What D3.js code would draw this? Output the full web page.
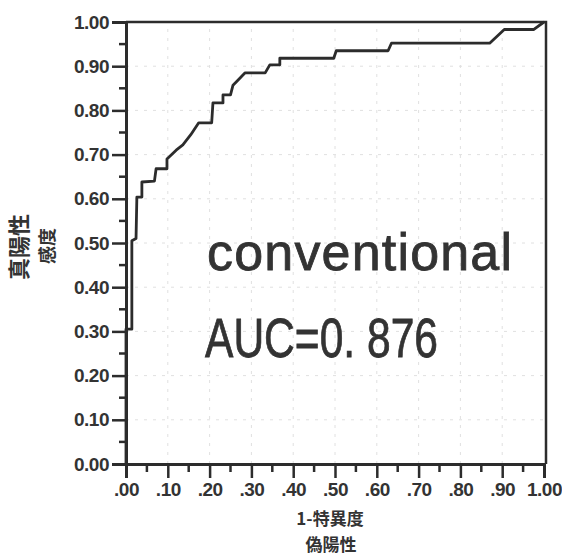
<!DOCTYPE html>
<html lang="ja">
<head>
    <meta charset="UTF-8">
    <script src="https://d3js.org/d3.v7.min.js"></script>
    <style>
        body { margin: 0; background: #fff; font-family: "Liberation Sans", Arial, sans-serif; }
        svg { display: block; }
    </style>
</head>
<body>
    <div id="chart"></div>
    <script>
        // ROC curve points (1-specificity, sensitivity)
        const fpr = [0, 0, 0.014, 0.014, 0.024, 0.026, 0.038, 0.038, 0.068, 0.072, 0.098, 0.098,
                     0.12, 0.136, 0.155, 0.174, 0.205, 0.208, 0.232, 0.232, 0.25, 0.256, 0.285,
                     0.333, 0.344, 0.368, 0.368, 0.497, 0.503, 0.627, 0.635, 0.87, 0.905, 0.975, 1];
        const tpr = [0, 0.305, 0.305, 0.505, 0.51, 0.604, 0.604, 0.638, 0.64, 0.668, 0.668, 0.69,
                     0.71, 0.722, 0.745, 0.772, 0.772, 0.817, 0.817, 0.835, 0.835, 0.857, 0.885,
                     0.885, 0.903, 0.903, 0.918, 0.918, 0.935, 0.935, 0.952, 0.952, 0.983, 0.983, 1];

        const xTicks = [0, 0.1, 0.2, 0.3, 0.4, 0.5, 0.6, 0.7, 0.8, 0.9, 1.0];
        const xTickLabels = [".00", ".10", ".20", ".30", ".40", ".50", ".60", ".70", ".80", ".90", "1.00"];
        const yTicks = [0, 0.1, 0.2, 0.3, 0.4, 0.5, 0.6, 0.7, 0.8, 0.9, 1.0];
        const yTickLabels = ["0.00", "0.10", "0.20", "0.30", "0.40", "0.50", "0.60", "0.70", "0.80", "0.90", "1.00"];
        const minorTicks = [0.05, 0.15, 0.25, 0.35, 0.45, 0.55, 0.65, 0.75, 0.85, 0.95];

        const width = 562, height = 556;
        const margin = { top: 22, right: 16, bottom: 92, left: 126 };
        const ink = "#2c2c2c";

        const x = d3.scaleLinear().domain([0, 1]).range([margin.left, 544]);
        const y = d3.scaleLinear().domain([0, 1]).range([height - margin.bottom, margin.top]);

        const svg = d3.select("#chart").append("svg")
            .attr("width", width)
            .attr("height", height);

        // faint dotted grid
        const grid = svg.append("g")
            .attr("stroke", "#e0e0e0")
            .attr("stroke-width", 1)
            .attr("stroke-dasharray", "3,6");
        grid.selectAll("line.vx")
            .data(xTicks.slice(1, -1))
            .enter().append("line")
            .attr("x1", d => x(d)).attr("x2", d => x(d))
            .attr("y1", y(0)).attr("y2", y(1));
        grid.selectAll("line.hy")
            .data(yTicks.slice(1, -1))
            .enter().append("line")
            .attr("x1", x(0)).attr("x2", x(1))
            .attr("y1", d => y(d)).attr("y2", d => y(d));

        // frame: top and right border
        svg.append("path")
            .attr("d", `M${x(0)},${y(1)}H${x(1) + 2}V${y(0)}`)
            .attr("fill", "none")
            .attr("stroke", ink)
            .attr("stroke-width", 2.5);

        // X axis
        const gx = svg.append("g")
            .attr("transform", `translate(0,${y(0)})`)
            .call(d3.axisBottom(x)
                .tickValues(xTicks)
                .tickSize(14)
                .tickPadding(5)
                .tickFormat((d, i) => xTickLabels[i]));
        gx.append("g").selectAll("line")
            .data(minorTicks)
            .enter().append("line")
            .attr("x1", d => x(d)).attr("x2", d => x(d))
            .attr("y1", 0).attr("y2", 8);

        // Y axis
        const gy = svg.append("g")
            .attr("transform", `translate(${x(0)},0)`)
            .call(d3.axisLeft(y)
                .tickValues(yTicks)
                .tickSize(14)
                .tickPadding(3)
                .tickFormat((d, i) => yTickLabels[i]));
        gy.append("g").selectAll("line")
            .data(minorTicks)
            .enter().append("line")
            .attr("x1", 0).attr("x2", -7)
            .attr("y1", d => y(d)).attr("y2", d => y(d));

        [gx, gy].forEach(g => {
            g.select(".domain").attr("stroke", ink).attr("stroke-width", 3);
            g.selectAll("line").attr("stroke", ink).attr("stroke-width", 2.5);
            g.selectAll("text")
                .attr("fill", "#333")
                .style("font-family", "'Liberation Sans', Arial, sans-serif")
                .style("font-size", "19px")
                .style("font-weight", "bold")
                .style("letter-spacing", "-0.5px");
        });

        // ROC curve
        const pts = fpr.map((d, i) => [d, tpr[i]]);
        svg.append("path")
            .datum(pts)
            .attr("fill", "none")
            .attr("stroke", ink)
            .attr("stroke-width", 2.8)
            .attr("stroke-linejoin", "round")
            .attr("d", d3.line().x(d => x(d[0])).y(d => y(d[1])));

        // annotations
        svg.append("text")
            .attr("x", 207).attr("y", 270)
            .attr("textLength", 305).attr("lengthAdjust", "spacing")
            .attr("fill", "#333").attr("stroke", "#333").attr("stroke-width", 0.8)
            .style("font-family", "'Liberation Sans', Arial, sans-serif")
            .style("font-size", "52px")
            .text("conventional");
        svg.append("text")
            .attr("x", 205).attr("y", 357)
            .attr("textLength", 233).attr("lengthAdjust", "spacingAndGlyphs")
            .attr("fill", "#333").attr("stroke", "#333").attr("stroke-width", 0.8)
            .style("font-family", "'Liberation Sans', Arial, sans-serif")
            .style("font-size", "55px")
            .text("AUC=0. 876");

        // axis titles
        const cjk = "'Noto Sans CJK JP', sans-serif";
        svg.append("text")
            .attr("x", 330).attr("y", 525)
            .attr("text-anchor", "middle")
            .attr("fill", "#333")
            .style("font-family", cjk).style("font-weight", "bold").style("font-size", "17px")
            .text("1-特異度");
        svg.append("text")
            .attr("x", 331).attr("y", 551)
            .attr("text-anchor", "middle")
            .attr("fill", "#333")
            .style("font-family", cjk).style("font-weight", "bold").style("font-size", "17px")
            .text("偽陽性");
        svg.append("text")
            .attr("transform", "translate(27,247) rotate(-90)")
            .attr("text-anchor", "middle")
            .attr("fill", "#333")
            .style("font-family", cjk).style("font-weight", "bold").style("font-size", "22px")
            .text("真陽性");
        svg.append("text")
            .attr("transform", "translate(54,246) rotate(-90)")
            .attr("text-anchor", "middle")
            .attr("fill", "#333")
            .style("font-family", cjk).style("font-weight", "bold").style("font-size", "18px")
            .text("感度");
    </script>
</body>
</html>
